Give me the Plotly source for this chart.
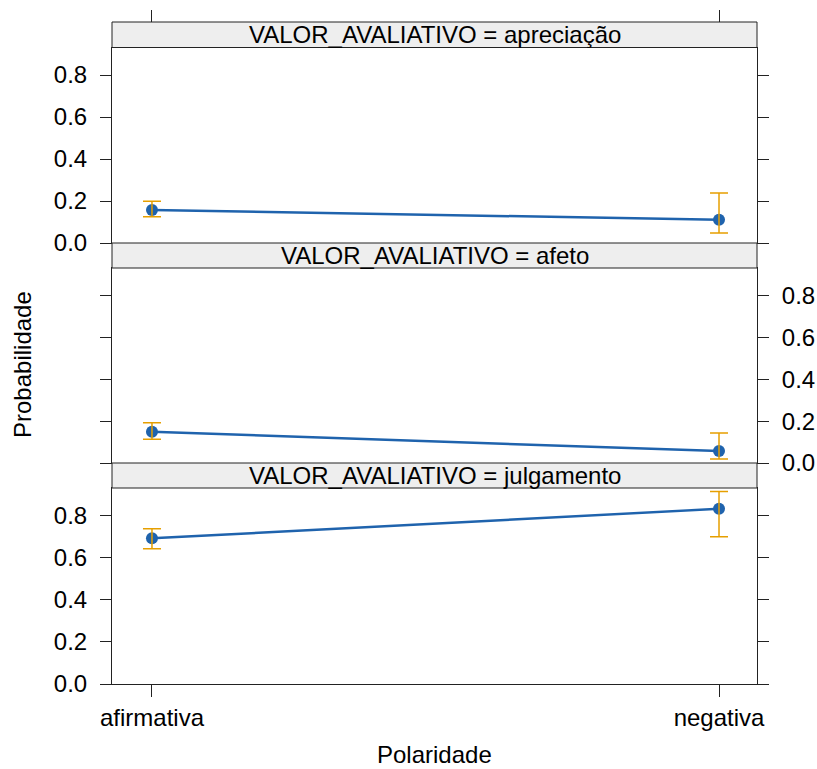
import plotly.graph_objects as go

# ---- data ----
categories = ["afirmativa", "negativa"]
panels = ["julgamento", "afeto", "apreciação"]  # bottom -> top
prob = {
    "apreciação": [0.157, 0.111],
    "afeto": [0.149, 0.057],
    "julgamento": [0.692, 0.832],
}
upper = {
    "apreciação": [0.199, 0.238],
    "afeto": [0.192, 0.143],
    "julgamento": [0.738, 0.914],
}
lower = {
    "apreciação": [0.125, 0.048],
    "afeto": [0.113, 0.019],
    "julgamento": [0.643, 0.700],
}
y_ticks = [0.0, 0.2, 0.4, 0.6, 0.8]
y_ticklabels = ["0.0", "0.2", "0.4", "0.6", "0.8"]
strip_prefix = "VALOR_AVALIATIVO = "
x_title = "Polaridade"
y_title = "Probabilidade"

# ---- layout geometry (paper coords) ----
W, H = 817, 769
FONT = "Liberation Sans, Arial, Helvetica, sans-serif"
x_dom = [112 / W, 757 / W]
plot_px = [(488, 684), (268, 463), (47.5, 243)]      # bottom, middle, top plot areas
strip_px = [(463, 488), (243, 268), (22, 47.5)]
def py(v):
    return 1 - v / H

BLUE = "#1f63ad"
ORANGE = "#E69F00"
AX = "#222222"
x_pos = list(range(1, len(categories) + 1))
x_range = [0.9295, 2.067]
y_range = [0, 0.931]

fig = go.Figure()
for i, p in enumerate(panels):
    suffix = "" if i == 0 else str(i + 1)
    xa, ya = "x" + suffix, "y" + suffix
    fig.add_trace(go.Scatter(
        x=x_pos, y=prob[p], xaxis=xa, yaxis=ya, mode="lines+markers",
        line=dict(color=BLUE, width=2.5),
        marker=dict(color=BLUE, size=12),
        showlegend=False, hoverinfo="skip"))
    fig.add_trace(go.Scatter(
        x=x_pos, y=prob[p], xaxis=xa, yaxis=ya, mode="markers",
        marker=dict(size=1, opacity=0),
        error_y=dict(type="data", symmetric=False,
                     array=[u - v for u, v in zip(upper[p], prob[p])],
                     arrayminus=[v - l for l, v in zip(lower[p], prob[p])],
                     color=ORANGE, thickness=1.5, width=9),
        showlegend=False, hoverinfo="skip"))

layout = dict(
    template="none",
    width=W, height=H, margin=dict(l=0, r=0, t=0, b=0, autoexpand=False),
    paper_bgcolor="white", plot_bgcolor="white",
    font=dict(family=FONT, size=24, color="black"),
    shapes=[], annotations=[],
)
for i, p in enumerate(panels):
    suffix = "" if i == 0 else str(i + 1)
    top_px, bot_px = plot_px[i]
    layout["xaxis" + suffix] = dict(
        domain=x_dom, range=x_range, anchor="y" + suffix, automargin=False,
        tickvals=x_pos, ticktext=categories,
        showticklabels=(i == 0), ticks="outside" if i == 0 else "",
        ticklen=12, tickcolor=AX, tickwidth=1, ticklabelstandoff=0,
        showline=True, linecolor=AX, linewidth=1, mirror=True,
        showgrid=False, zeroline=False, fixedrange=True,
        tickfont=dict(size=24))
    layout["yaxis" + suffix] = dict(
        domain=[py(bot_px), py(top_px)], range=y_range, anchor="x" + suffix,
        automargin=False,
        side="right" if i == 1 else "left",
        tickvals=y_ticks, ticktext=y_ticklabels,
        ticks="outside", ticklen=11, tickcolor=AX, tickwidth=1,
        ticklabelstandoff=8,
        showline=True, linecolor=AX, linewidth=1, mirror="ticks",
        showgrid=False, zeroline=False, fixedrange=True,
        tickfont=dict(size=24))
    s_top, s_bot = strip_px[i]
    layout["shapes"].append(dict(
        type="rect", xref="paper", yref="paper",
        x0=x_dom[0], x1=x_dom[1], y0=py(s_bot), y1=py(s_top),
        fillcolor="#EEEEEE", line=dict(color=AX, width=1), layer="above"))
    layout["annotations"].append(dict(
        text=strip_prefix + p, xref="paper", yref="paper",
        x=(x_dom[0] + x_dom[1]) / 2, y=py((s_top + s_bot) / 2),
        xanchor="center", yanchor="middle", showarrow=False,
        font=dict(size=24, color="black")))

# top tick marks above the top strip
layout["xaxis4"] = dict(
    domain=x_dom, range=x_range, anchor="free", overlaying="x",
    position=py(strip_px[2][0]), side="top", automargin=False,
    tickvals=x_pos, ticktext=categories, showticklabels=False,
    ticks="outside", ticklen=12, tickcolor=AX, tickwidth=1,
    showline=False, showgrid=False, zeroline=False, fixedrange=True)
fig.add_trace(go.Scatter(x=[x_pos[0]], y=[None], xaxis="x4", yaxis="y",
                         mode="markers", showlegend=False, hoverinfo="skip"))

layout["annotations"].append(dict(
    text=x_title, xref="paper", yref="paper",
    x=(x_dom[0] + x_dom[1]) / 2, y=py(754), xanchor="center", yanchor="middle",
    showarrow=False, font=dict(size=24)))
layout["annotations"].append(dict(
    text=y_title, xref="paper", yref="paper", textangle=-90,
    x=22 / W, y=py(365), xanchor="center", yanchor="middle",
    showarrow=False, font=dict(size=24)))

fig.update_layout(**layout)
fig.write_html("out.html", config={"displayModeBar": False},
               post_script="document.body.style.margin='0';document.body.style.overflow='hidden';")
